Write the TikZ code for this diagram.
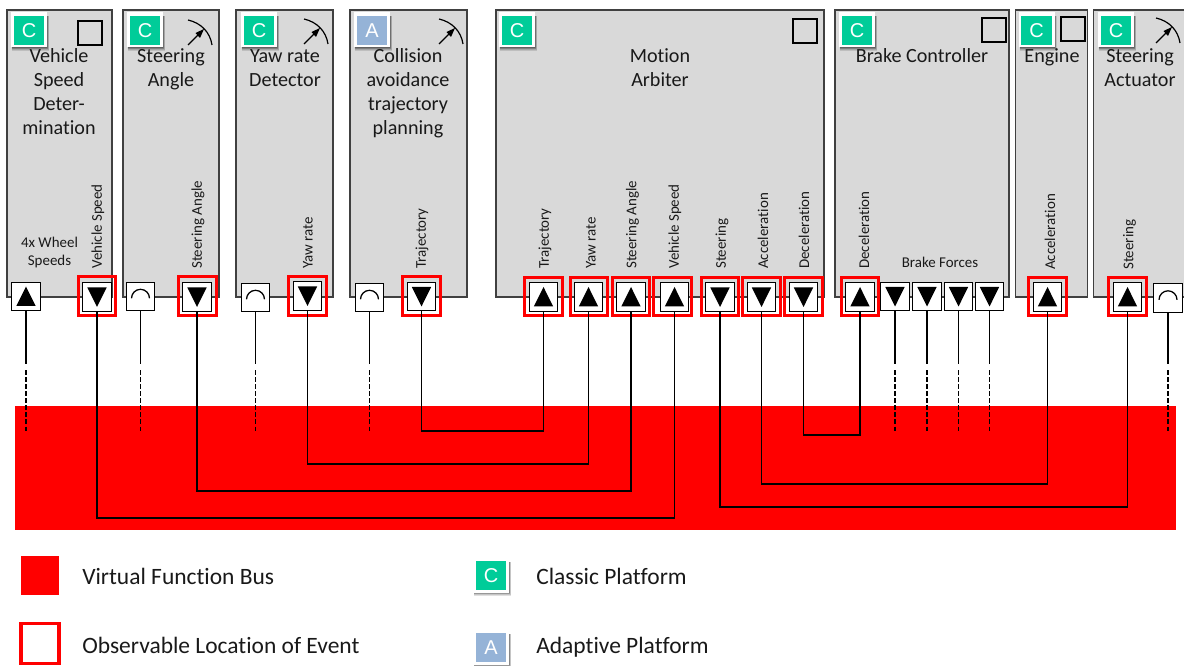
\documentclass[tikz,border=0pt]{standalone}
\usepackage{fontspec}
\setmainfont[Ligatures=NoCommon]{Carlito}
\newfontfamily\badgefont{Liberation Sans}
\usetikzlibrary{calc}
\definecolor{boxgray}{HTML}{D9D9D9}
\definecolor{boxline}{HTML}{404040}
\definecolor{cgreen}{HTML}{00CC99}
\definecolor{ablue}{HTML}{95B3D7}
\definecolor{vfbred}{HTML}{FF0000}
\tikzset{
  block/.style={draw=boxline,fill=boxgray,line width=.8pt,inner sep=0,outer sep=0},
  title/.style={font=\fontsize{15.1}{18}\selectfont,align=center,inner sep=0,text=black!90,anchor=north},
  small/.style={font=\fontsize{11.2}{13.5}\selectfont,align=center,inner sep=0,text=black!90},
  vlabel/.style={font=\fontsize{11.2}{12}\selectfont,rotate=90,anchor=west,inner sep=0,text=black!90},
  legendtext/.style={font=\fontsize{17.6}{20}\selectfont,anchor=west,inner sep=0,text=black!90},
  portbox/.style={draw=black,fill=white,line width=.95pt,minimum width=21.5pt,minimum height=21.5pt,inner sep=0,outer sep=0},
  redbox/.style={draw=vfbred,line width=2.3pt,minimum width=28pt,minimum height=29pt,inner sep=0,outer sep=0},
  iconbox/.style={draw=black,line width=.9pt,minimum width=18pt,minimum height=18pt,inner sep=0},
  wire/.style={draw=black,line width=.8pt},
  stub/.style={draw=black,line width=.8pt,dash pattern=on 3.4pt off 1.9pt},
  cbadge/.style={fill=cgreen,text=white,minimum width=23pt,minimum height=22pt,inner sep=0,outer sep=0,font=\badgefont\fontsize{15}{15}\selectfont},
  abadge/.style={cbadge,fill=ablue},
}
\newcommand{\badgeback}[2]{%
  \foreach \d in {0.6,1.2,1.8,2.4,3.0,3.6}{
    \fill[black,opacity=.12] (#1-17,#2-14) rectangle (#1+18+\d*.6,#2+16.5+\d);
  }
  \fill[white] (#1-18,#2-18) rectangle (#1+18,#2+17);
}
\newcommand{\cbadgeat}[3]{\badgeback{#2}{#3}\node[cbadge] (#1) at (#2,#3) {C};}
\newcommand{\abadgeat}[3]{\badgeback{#2}{#3}\node[abadge] (#1) at (#2,#3) {A};}
\newcommand{\portup}[3]{\node[portbox] (#1) at (#2,#3) {};
  \fill[black] ($(#1.center)+(-9.7,9.5)$) -- ($(#1.center)+(9.7,9.5)$) -- ($(#1.center)+(0,-10)$) -- cycle;}
\newcommand{\portdown}[3]{\node[portbox] (#1) at (#2,#3) {};
  \fill[black] ($(#1.center)+(-9.7,-9.5)$) -- ($(#1.center)+(9.7,-9.5)$) -- ($(#1.center)+(0,10)$) -- cycle;}
\newcommand{\portarc}[3]{\node[portbox] (#1) at (#2,#3) {};
  \draw[line width=.95pt] ($(#1.center)+(-9,1.8)$) arc[start angle=180,end angle=360,radius=9];}
\newcommand{\gauge}[2]{%
  \draw[line width=.9pt] (#1,#2) .. controls (#1+13,#2+3) and (#1+22,#2+12) .. (#1+24,#2+25);
  \draw[line width=.9pt] (#1,#2+25) -- (#1+11,#2+14);
  \fill[black] (#1+16,#2+9) -- (#1+7.5,#2+13) -- (#1+12,#2+18) -- cycle;}
\begin{document}
\begin{tikzpicture}[x=0.75pt,y=-0.75pt]
\useasboundingbox (0,0) rectangle (1184,666);
% bus
\fill[vfbred] (15,406) rectangle (1176,530);
% blocks
\node[block,minimum width=78.75pt,minimum height=215.25pt] (b1) at (59.5,153.5) {};
\node[block,minimum width=72pt,minimum height=215.25pt] (b2) at (171,153.5) {};
\node[block,minimum width=72.75pt,minimum height=215.25pt] (b3) at (284.5,153.5) {};
\node[block,minimum width=87.75pt,minimum height=215.25pt] (b4) at (408.5,153.5) {};
\node[block,minimum width=246pt,minimum height=215.25pt] (b5) at (660,153.5) {};
\node[block,minimum width=130.5pt,minimum height=215.25pt] (b6) at (922,153.5) {};
\node[block,minimum width=53.5pt,minimum height=215.25pt] (b7) at (1051.5,153.5) {};
\node[block,minimum width=75pt,minimum height=215.25pt] (b8) at (1143.5,153.5) {};
% badges
\cbadgeat{c1}{29}{30.5}
\cbadgeat{c2}{145}{30.5}
\cbadgeat{c3}{259}{30.5}
\abadgeat{a4}{372}{30.5}
\cbadgeat{c5}{517}{30.5}
\cbadgeat{c6}{857}{30.5}
\cbadgeat{c7}{1036.5}{30.5}
\cbadgeat{c8}{1116}{30.5}
% icons
\node[iconbox] (i1) at (90,33) {};
\node[iconbox] (i5) at (805,31) {};
\node[iconbox] (i6) at (994,30) {};
\node[iconbox] (i7) at (1073,29) {};
\gauge{188}{20}
\gauge{304}{19}
\gauge{439}{19}
\gauge{1156}{18}
% titles
\node[title] (t1) at (59,45.5) {\strut Vehicle\\\strut Speed\\\strut Deter-\\\strut mination};
\node[title] (t2) at (171,45.5) {\strut Steering\\\strut Angle};
\node[title] (t3) at (285,45.5) {\strut Yaw rate\\\strut Detector};
\node[title] (t4) at (408,45.5) {\strut Collision\\\strut avoidance\\\strut trajectory\\\strut planning};
\node[title] (t5) at (660,45.5) {\strut Motion\\\strut Arbiter};
\node[title] (t6) at (922,45.5) {\strut Brake Controller};
\node[title] (t7) at (1052,45.5) {\strut Engine};
\node[title] (t8) at (1140,45.5) {\strut Steering\\\strut Actuator};
% port labels
\node[small] (w) at (49.5,253) {4x Wheel\\Speeds};
\node[small] (bf) at (940,262) {Brake Forces};
\node[vlabel] (l1) at (98,269) {Vehicle Speed};
\node[vlabel] (l2) at (198,269) {Steering Angle};
\node[vlabel] (l3) at (308,269) {Yaw rate};
\node[vlabel] (l4) at (422,269) {Trajectory};
\node[vlabel] (l5) at (545,269) {Trajectory};
\node[vlabel] (l6) at (591,269) {Yaw rate};
\node[vlabel] (l7) at (632.5,269) {Steering Angle};
\node[vlabel] (l8) at (675,269) {Vehicle Speed};
\node[vlabel] (l9) at (722,269) {Steering};
\node[vlabel] (l10) at (763,269) {Acceleration};
\node[vlabel] (l11) at (804,269) {Deceleration};
\node[vlabel] (l12) at (864,269) {Deceleration};
\node[vlabel] (l13) at (1050,270) {Acceleration};
\node[vlabel] (l14) at (1129.5,270) {Steering};
% ports
\portup{p1}{26}{296.5}
\portdown{p2}{97}{297}
\portarc{p3}{140.5}{296.5}
\portdown{p4}{197}{297}
\portarc{p5}{255.5}{297.5}
\portdown{p6}{307.5}{296}
\portarc{p7}{369.5}{297.5}
\portdown{p8}{421.5}{296.5}
\portup{p9}{543.5}{297}
\portup{p10}{588.5}{297}
\portup{p11}{631}{297}
\portup{p12}{674.5}{297}
\portdown{p13}{720}{297}
\portdown{p14}{761.5}{297}
\portdown{p15}{803.5}{297}
\portup{p16}{860}{297}
\portdown{p17}{895}{296.5}
\portdown{p18}{927}{296.5}
\portdown{p19}{958.5}{296.5}
\portdown{p20}{989.5}{296.5}
\portup{p21}{1047.5}{297}
\portup{p22}{1127.5}{297}
\portarc{p23}{1168}{298}
% red frames
\foreach \n/\x/\y in {r2/97/296,r4/197.5/296,r6/307.5/296,r8/421.5/296,r9/543.5/296.5,r10/589/296.5,r11/631/296.5,r12/672.5/296.5,r13/720/296.5,r14/761.5/296.5,r15/803.5/296.5,r16/860/296.5,r21/1047.5/296.5,r22/1127.5/296.5}
  \node[redbox] (\n) at (\x,\y) {};
% wires
\coordinate (y1) at (0,431);
\coordinate (y2) at (0,464);
\coordinate (y3) at (0,491);
\coordinate (y4) at (0,518);
\coordinate (y5) at (0,435);
\coordinate (y6) at (0,484);
\coordinate (y7) at (0,507);
\draw[wire] (p8.south) -- (p8.south |- y1) -- (p9.south |- y1) -- (p9.south);
\draw[wire] (p6.south) -- (p6.south |- y2) -- (p10.south |- y2) -- (p10.south);
\draw[wire] (p4.south) -- (p4.south |- y3) -- (p11.south |- y3) -- (p11.south);
\draw[wire] (p2.south) -- (p2.south |- y4) -- (p12.south |- y4) -- (p12.south);
\draw[wire] (p15.south) -- (p15.south |- y5) -- (p16.south |- y5) -- (p16.south);
\draw[wire] (p14.south) -- (p14.south |- y6) -- (p21.south |- y6) -- (p21.south);
\draw[wire] (p13.south) -- (p13.south |- y7) -- (p22.south |- y7) -- (p22.south);
\coordinate (ys) at (0,364);
\coordinate (yd) at (0,370);
\coordinate (ye) at (0,431);
\foreach \p in {p1,p3,p5,p7,p17,p18,p19,p20,p23}{
  \draw[wire] (\p.south) -- (\p.south |- ys);
  \draw[stub] (\p.south |- yd) -- (\p.south |- ye);
}
% legend
\fill[vfbred] (21,556) rectangle (59,595);
\node[redbox,minimum width=28.5pt,minimum height=29.5pt] (lr) at (40,643.5) {};
\node[legendtext] (lt1) at (82,576) {Virtual Function Bus};
\node[legendtext] (lt2) at (82,645) {Observable Location of Event};
\cbadgeat{lc}{491}{575.5}
\abadgeat{la}{491}{647.5}
\node[legendtext] (lt3) at (536,576) {Classic Platform};
\node[legendtext] (lt4) at (536,647) {Adaptive Platform};
\end{tikzpicture}
\end{document}
